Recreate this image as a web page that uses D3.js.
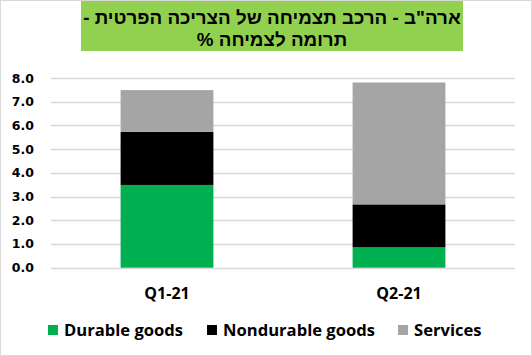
<!DOCTYPE html>
<html><head><meta charset="utf-8">
<script src="https://cdn.jsdelivr.net/npm/d3@7"></script>
<style>
html,body{margin:0;padding:0;background:#fff;}
svg{display:block;}
</style></head>
<body>
<script>
const categories = ["Q1-21", "Q2-21"];
const seriesNames = ["Durable goods", "Nondurable goods", "Services"];
const durable = [3.49, 0.86];
const nondurable = [2.24, 1.81];
const services = [1.76, 5.14];
const yTicks = [0, 1, 2, 3, 4, 5, 6, 7, 8];
const titleLines = ["ארה\"ב - הרכב תצמיחה של הצריכה הפרטית -", "תרומה לצמיחה %"];
const colors = ["#00B050", "#000000", "#A5A5A5"];

const W = 532, H = 356;
const svg = d3.select("body").append("svg").attr("width", W).attr("height", H);

svg.append("rect").attr("x", 0.5).attr("y", 0.5).attr("width", W - 1).attr("height", H - 1)
  .attr("fill", "#fff").attr("stroke", "#d9d9d9");

// Title
svg.append("rect").attr("x", 81).attr("y", 1).attr("width", 382).attr("height", 50).attr("fill", "#92D050");
svg.selectAll("text.title").data(titleLines).join("text")
  .attr("class", "title")
  .attr("x", 272).attr("y", (d, i) => 24 + i * 22)
  .attr("text-anchor", "middle")
  .attr("direction", "rtl")
  .style("direction", "rtl")
  .attr("font-family", "Liberation Sans, Arial, sans-serif")
  .attr("font-weight", "bold").attr("font-size", 18.8).attr("fill", "#000")
  .text(d => d);

const plot = {left: 51, right: 515, top: 78, bottom: 267.7};
const x = d3.scaleBand().domain(categories).range([plot.left, plot.right]).paddingInner(0.6).paddingOuter(0.3);
const y = d3.scaleLinear().domain([0, 8]).range([plot.bottom, plot.top]);

// gridlines
svg.append("g").selectAll("line").data(yTicks).join("line")
  .attr("x1", plot.left).attr("x2", plot.right)
  .attr("y1", d => Math.round(y(d)) + 0.5).attr("y2", d => Math.round(y(d)) + 0.5)
  .attr("stroke", "#d9d9d9").attr("stroke-width", 1.3);

// y axis labels
const yAxis = d3.axisLeft(y).tickValues(yTicks).tickFormat(d3.format(".1f")).tickSize(0).tickPadding(0);
const ya = svg.append("g").attr("transform", "translate(34,0)").call(yAxis);
ya.select(".domain").remove();
ya.selectAll("text").attr("font-family", "DejaVu Sans, Verdana, sans-serif").attr("font-weight", "bold")
  .attr("font-size", 12.5).attr("fill", "#000");

// stacked bars
const table = categories.map((c, i) => ({cat: c, d0: durable[i], d1: nondurable[i], d2: services[i]}));
const stack = d3.stack().keys(["d0", "d1", "d2"])(table);
svg.append("g").selectAll("g").data(stack).join("g")
  .attr("fill", (d, i) => colors[i])
  .selectAll("rect").data(d => d).join("rect")
  .attr("x", d => x(d.data.cat))
  .attr("width", x.bandwidth())
  .attr("y", d => y(d[1]))
  .attr("height", d => y(d[0]) - y(d[1]));

// x axis labels
const xAxis = d3.axisBottom(x).tickSize(0).tickPadding(0);
const xa = svg.append("g").attr("transform", "translate(0,299)").call(xAxis);
xa.select(".domain").remove();
xa.selectAll("text").attr("font-family", "Open Sans, sans-serif").attr("font-weight", "bold")
  .attr("font-size", 16).attr("fill", "#000").attr("dy", 0);

// legend
const legX = [48, 207, 398];
const leg = svg.append("g").selectAll("g").data(seriesNames).join("g")
  .attr("transform", (d, i) => `translate(${legX[i]},0)`);
leg.append("rect").attr("x", 0).attr("y", 325).attr("width", 10).attr("height", 10).attr("fill", (d, i) => colors[i]);
leg.append("text").attr("x", 16).attr("y", 335.5)
  .attr("font-family", "Open Sans, sans-serif").attr("font-weight", "bold")
  .attr("font-size", 16.6).attr("fill", "#000").text(d => d);
</script>
</body></html>
